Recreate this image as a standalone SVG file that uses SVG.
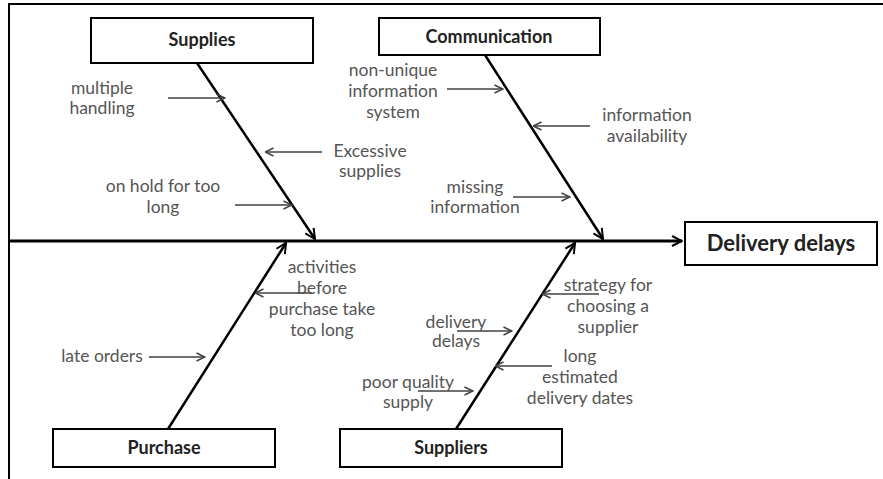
<svg xmlns="http://www.w3.org/2000/svg" width="883" height="479" viewBox="0 0 883 479">
<style>
.frame{fill:none;stroke:#000;stroke-width:2}
.box{fill:#fff;stroke:#000;stroke-width:2}
.title{font-family:Lato,"Open Sans",sans-serif;font-weight:bold;font-size:18px;fill:#222;text-anchor:middle}
.big{font-size:22px}
.lbl{font-family:Lato,"Open Sans",sans-serif;font-size:17.5px;fill:#555;text-anchor:middle}
.bone{stroke:#000;stroke-width:2.5;fill:none}
.spine{stroke:#000;stroke-width:3;fill:none}
.sub{stroke:#404040;stroke-width:1.5;fill:none}
</style>
<defs>
<marker id="ah" viewBox="0 0 12 12" refX="11" refY="6" markerWidth="12" markerHeight="12" markerUnits="userSpaceOnUse" orient="auto">
<path d="M1,1 L11,6 L1,11" fill="none" stroke="#000" stroke-width="2"/>
</marker>
<marker id="as" viewBox="0 0 10 10" refX="9.5" refY="5" markerWidth="10" markerHeight="10" markerUnits="userSpaceOnUse" orient="auto">
<path d="M1,1 L9.5,5 L1,9" fill="none" stroke="#404040" stroke-width="1.5"/>
</marker>
</defs>
<rect width="883" height="479" fill="#fff"/>
<path class="frame" d="M9,479 L9,4 L883,4"/>
<g id="connectors">
<line class="spine" x1="9" y1="241" x2="682" y2="241" marker-end="url(#ah)"/>
<line class="bone" x1="197" y1="63" x2="315" y2="239" marker-end="url(#ah)"/>
<line class="bone" x1="485" y1="55" x2="603" y2="239" marker-end="url(#ah)"/>
<line class="bone" x1="168" y1="429" x2="286" y2="243" marker-end="url(#ah)"/>
<line class="bone" x1="456" y1="429" x2="575" y2="243" marker-end="url(#ah)"/>
<line class="sub" x1="168" y1="98" x2="225" y2="98" marker-end="url(#as)"/>
<line class="sub" x1="322" y1="152" x2="265" y2="152" marker-end="url(#as)"/>
<line class="sub" x1="235" y1="205" x2="292" y2="205" marker-end="url(#as)"/>
<line class="sub" x1="447" y1="89" x2="503" y2="89" marker-end="url(#as)"/>
<line class="sub" x1="590" y1="126" x2="533" y2="126" marker-end="url(#as)"/>
<line class="sub" x1="513" y1="197" x2="570" y2="197" marker-end="url(#as)"/>
<line class="sub" x1="312" y1="293" x2="255" y2="293" marker-end="url(#as)"/>
<line class="sub" x1="149" y1="357" x2="205" y2="357" marker-end="url(#as)"/>
<line class="sub" x1="599" y1="294" x2="542" y2="294" marker-end="url(#as)"/>
<line class="sub" x1="457" y1="331" x2="512" y2="331" marker-end="url(#as)"/>
<line class="sub" x1="552" y1="366" x2="495" y2="366" marker-end="url(#as)"/>
<line class="sub" x1="418" y1="391" x2="473" y2="391" marker-end="url(#as)"/>
</g>
<g id="supplies"><rect class="box" x="91" y="18" width="222" height="45"/><text class="title" x="202" y="46">Supplies</text></g>
<g id="communication"><rect class="box" x="379" y="18" width="221" height="37"/><text class="title" x="489" y="43">Communication</text></g>
<g id="purchase"><rect class="box" x="53" y="429" width="222" height="38"/><text class="title" x="164" y="454">Purchase</text></g>
<g id="suppliers"><rect class="box" x="340" y="429" width="222" height="38"/><text class="title" x="451" y="454">Suppliers</text></g>
<g id="delivery-delays"><rect class="box" x="685" y="222" width="192" height="43"/><text class="title big" x="781" y="251">Delivery delays</text></g>
<g id="labels">
<text class="lbl" x="102" y="94">multiple</text>
<text class="lbl" x="102" y="114">handling</text>
<text class="lbl" x="370" y="157">Excessive</text>
<text class="lbl" x="370" y="177">supplies</text>
<text class="lbl" x="163" y="192">on hold for too</text>
<text class="lbl" x="163" y="213">long</text>
<text class="lbl" x="393" y="76">non-unique</text>
<text class="lbl" x="393" y="97">information</text>
<text class="lbl" x="393" y="118">system</text>
<text class="lbl" x="647" y="121">information</text>
<text class="lbl" x="647" y="142">availability</text>
<text class="lbl" x="475" y="193">missing</text>
<text class="lbl" x="475" y="213">information</text>
<text class="lbl" x="322" y="273">activities</text>
<text class="lbl" x="322" y="294">before</text>
<text class="lbl" x="322" y="315">purchase take</text>
<text class="lbl" x="322" y="336">too long</text>
<text class="lbl" x="102" y="362">late orders</text>
<text class="lbl" x="608" y="291">strategy for</text>
<text class="lbl" x="608" y="312">choosing a</text>
<text class="lbl" x="608" y="333">supplier</text>
<text class="lbl" x="456" y="328">delivery</text>
<text class="lbl" x="456" y="347">delays</text>
<text class="lbl" x="580" y="362">long</text>
<text class="lbl" x="580" y="383">estimated</text>
<text class="lbl" x="580" y="404">delivery dates</text>
<text class="lbl" x="408" y="388">poor quality</text>
<text class="lbl" x="408" y="408">supply</text>
</g>
</svg>
